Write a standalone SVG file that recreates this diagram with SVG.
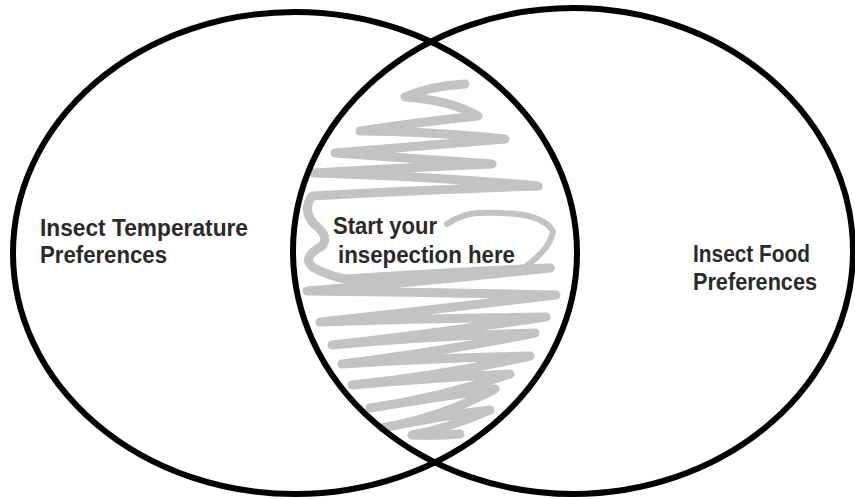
<svg xmlns="http://www.w3.org/2000/svg" width="855" height="499" viewBox="0 0 855 499">
<style>
.ring{fill:none;stroke:#000;stroke-width:6}
.scribble{fill:none;stroke:#c3c3c3;stroke-linejoin:round;stroke-linecap:round}
.w1{stroke-width:9}
.w2{stroke-width:6}
.lbl{font-family:"Liberation Sans",Arial,sans-serif;font-weight:bold;font-size:23px;fill:#2a2a2a}
</style>
<rect width="855" height="499" fill="#fff"/>
<g id="shading">
<path class="scribble w1" d="M465,84 Q430,86 405,97 Q450,100 478,116 Q420,122 360,131 Q440,132 505,139 Q420,146 335,153 Q410,158 492,164 Q400,168 314,173 Q430,176 538,186 Q420,190 312,196 Q302,210 314,224 Q330,236 322,246 Q300,258 314,268 Q330,276 345,279 Q450,272 550,268"/>
<path class="scribble w1" d="M550,268 Q420,282 307,291 Q430,292 556,295 Q430,310 320,322 Q430,318 546,317 Q430,334 332,345 Q430,336 535,333 Q440,352 342,364 Q430,358 530,356 Q440,376 352,385 Q430,378 510,374 Q440,398 370,408 Q430,398 495,389 Q440,418 382,428 Q440,416 490,410 Q450,428 412,435 Q440,436 460,434"/>
<path class="scribble w2" d="M447,224 Q462,214 478,213 Q505,212 524,215 Q548,220 553,232 Q550,244 542,252 Q533,262 522,269"/>
</g>
<g id="left-set">
<ellipse class="ring" cx="295" cy="253" rx="282" ry="241"/>
<text class="lbl" x="40" y="236" textLength="208" lengthAdjust="spacingAndGlyphs">Insect Temperature</text>
<text class="lbl" x="40" y="263" textLength="127" lengthAdjust="spacingAndGlyphs">Preferences</text>
</g>
<g id="right-set">
<ellipse class="ring" cx="573" cy="251" rx="280" ry="243"/>
<text class="lbl" x="693" y="262" textLength="117" lengthAdjust="spacingAndGlyphs">Insect Food</text>
<text class="lbl" x="693" y="290" textLength="124" lengthAdjust="spacingAndGlyphs">Preferences</text>
</g>
<g id="intersection">
<text class="lbl" x="333" y="234" textLength="104" lengthAdjust="spacingAndGlyphs">Start your</text>
<text class="lbl" x="338" y="263" textLength="177" lengthAdjust="spacingAndGlyphs">insepection here</text>
</g>
</svg>
